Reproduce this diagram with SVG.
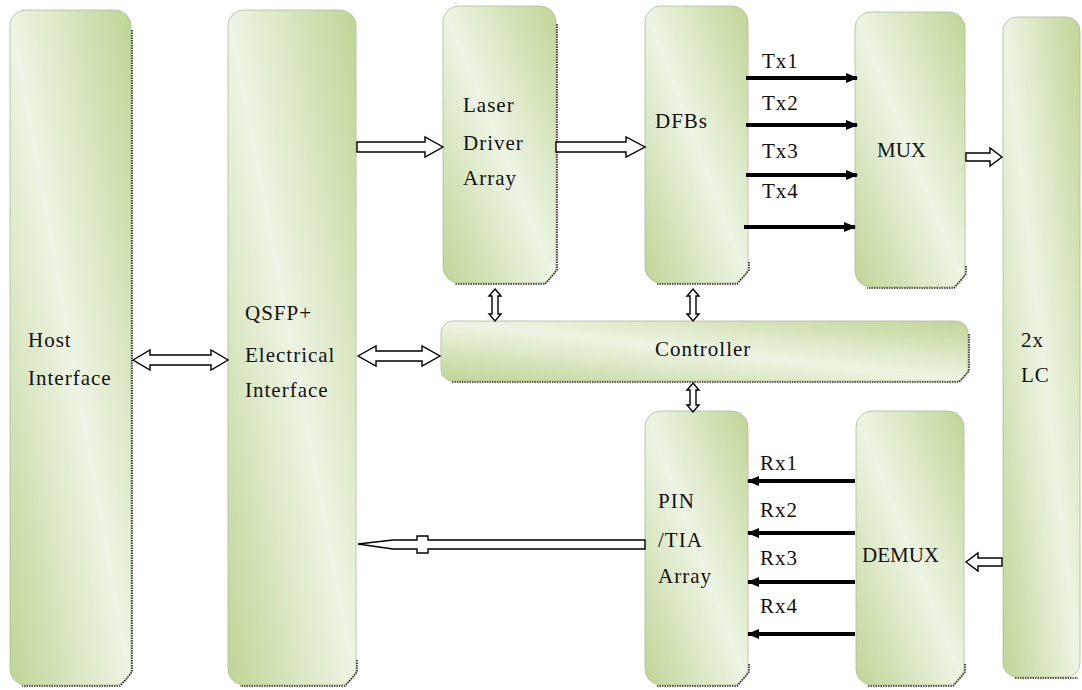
<svg xmlns="http://www.w3.org/2000/svg" width="1082" height="690" viewBox="0 0 1082 690">
  <defs>
    <linearGradient id="g" x1="1" y1="0" x2="0" y2="1">
      <stop offset="0" stop-color="#bfd596"/>
      <stop offset="0.5" stop-color="#eef4e4"/>
      <stop offset="1" stop-color="#bfd596"/>
    </linearGradient>
    <marker id="ah" markerUnits="userSpaceOnUse" markerWidth="12" markerHeight="12" viewBox="0 0 12 12" refX="11" refY="6" orient="auto">
      <path d="M0,1 L12,6 L0,11 Z" fill="#000"/>
    </marker>
    <style>
      .box { fill: url(#g); stroke: #aebd98; stroke-width: 0.8; }
      .dot { fill: none; stroke: #222; stroke-width: 1.6; stroke-dasharray: 1.5 1; }
      .t { font-family: "Liberation Serif", "Times New Roman", serif; font-size: 21px; letter-spacing: 1px; fill: #111; }
      .hollow { fill: #fff; stroke: #000; stroke-width: 1.4; stroke-linejoin: miter; }
      .sig { stroke: #000; stroke-width: 4; fill: none; marker-end: url(#ah); }
    </style>
  </defs>
  <rect width="1082" height="690" fill="#fff"/>

  <g id="host">
    <rect class="box" x="10" y="10" width="121" height="675" rx="16"/>
    <path class="dot" d="M132,30 L132,672 L120,686 L22,686"/>
    <text class="t" x="28" y="347">Host</text>
    <text class="t" x="28" y="385">Interface</text>
  </g>

  <g id="qsfp">
    <rect class="box" x="228" y="10" width="128" height="675" rx="16"/>
    <path class="dot" d="M357,660 L357,672 L345,686 L240,686"/>
    <text class="t" x="245" y="320">QSFP+</text>
    <text class="t" x="245" y="362">Electrical</text>
    <text class="t" x="245" y="397">Interface</text>
  </g>

  <g id="laser">
    <rect class="box" x="443" y="6" width="113" height="277" rx="16"/>
    <path class="dot" d="M557,24 L557,270 L545,284 L455,284"/>
    <text class="t" x="463" y="112">Laser</text>
    <text class="t" x="463" y="150">Driver</text>
    <text class="t" x="463" y="185">Array</text>
  </g>

  <g id="dfbs">
    <rect class="box" x="645" y="6" width="103" height="277" rx="16"/>
    <path class="dot" d="M749,262 L749,270 L737,284 L657,284"/>
    <text class="t" x="655" y="128">DFBs</text>
  </g>

  <g id="mux">
    <rect class="box" x="855" y="12" width="110" height="275" rx="16"/>
    <path class="dot" d="M966,266 L966,274 L954,288 L867,288"/>
    <text class="t" x="877" y="157" style="letter-spacing:0px">MUX</text>
  </g>

  <g id="lc">
    <rect class="box" x="1003" y="17" width="77" height="660" rx="14"/>
    <path class="dot" d="M1015,678 L1078,678"/>
    <text class="t" x="1021" y="347">2x</text>
    <text class="t" x="1021" y="382">LC</text>
  </g>

  <g id="controller">
    <rect class="box" x="441" y="321" width="527" height="60" rx="12"/>
    <path class="dot" d="M969,334 L969,371 L959,382 L452,382"/>
    <text class="t" x="655" y="356">Controller</text>
  </g>

  <g id="pin">
    <rect class="box" x="645" y="411" width="103" height="274" rx="16"/>
    <path class="dot" d="M749,664 L749,672 L737,686 L657,686"/>
    <text class="t" x="658" y="508">PIN</text>
    <text class="t" x="658" y="547">/TIA</text>
    <text class="t" x="658" y="583">Array</text>
  </g>

  <g id="demux">
    <rect class="box" x="856" y="411" width="108" height="274" rx="16"/>
    <path class="dot" d="M965,664 L965,672 L953,686 L868,686"/>
    <text class="t" x="862" y="562" style="letter-spacing:0px">DEMUX</text>
  </g>

  <g id="connectors">
    <!-- Host <=> QSFP -->
    <polygon class="hollow" points="133,360 150,350 150,355 211,355 211,350 228,360 211,370 211,365 150,365 150,370"/>
    <!-- QSFP <=> Controller -->
    <polygon class="hollow" points="358,356 376,346 376,351 422,351 422,346 440,356 422,366 422,361 376,361 376,366"/>
    <!-- QSFP => Laser -->
    <polygon class="hollow" points="357,142 425,142 425,137 443,147 425,157 425,152 357,152"/>
    <!-- Laser => DFBs -->
    <polygon class="hollow" points="556,142 626,142 626,137 645,147 626,157 626,152 556,152"/>
    <!-- MUX => LC -->
    <polygon class="hollow" points="966,153 990,153 990,148 1002,157 990,166 990,161 966,161"/>
    <!-- LC => DEMUX -->
    <polygon class="hollow" points="1002,558 978,558 978,553 966,562 978,571 978,566 1002,566"/>
    <!-- Laser <=> Controller -->
    <polygon class="hollow" points="495,289 501,296 498,296 498,314 501,314 495,321 489,314 492,314 492,296 489,296"/>
    <!-- DFBs <=> Controller -->
    <polygon class="hollow" points="693,289 699,296 696,296 696,314 699,314 693,321 687,314 690,314 690,296 687,296"/>
    <!-- Controller <=> PIN -->
    <polygon class="hollow" points="693,383 699,390 696,390 696,405 699,405 693,412 687,405 690,405 690,390 687,390"/>
    <!-- PIN => QSFP -->
    <polygon class="hollow" points="358,544 393,540 417,540 417,536 428,536 428,540 645,540 645,549 428,549 428,553 417,553 417,549 393,549"/>

    <!-- Tx lines -->
    <line class="sig" x1="746" y1="78" x2="857" y2="78"/>
    <line class="sig" x1="746" y1="125" x2="857" y2="125"/>
    <line class="sig" x1="746" y1="175" x2="857" y2="175"/>
    <line class="sig" x1="744" y1="227" x2="855" y2="227"/>
    <!-- Rx lines -->
    <line class="sig" x1="855" y1="481" x2="748" y2="481"/>
    <line class="sig" x1="855" y1="533" x2="748" y2="533"/>
    <line class="sig" x1="855" y1="582" x2="748" y2="582"/>
    <line class="sig" x1="855" y1="634" x2="748" y2="634"/>

    <text class="t" x="762" y="68">Tx1</text>
    <text class="t" x="762" y="110">Tx2</text>
    <text class="t" x="762" y="158">Tx3</text>
    <text class="t" x="762" y="198">Tx4</text>
    <text class="t" x="760" y="470">Rx1</text>
    <text class="t" x="760" y="517">Rx2</text>
    <text class="t" x="760" y="565">Rx3</text>
    <text class="t" x="760" y="613">Rx4</text>
  </g>
</svg>
